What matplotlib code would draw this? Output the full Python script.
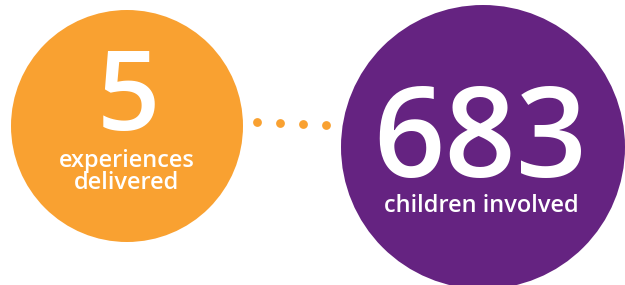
import matplotlib
matplotlib.use("Agg")
import matplotlib.pyplot as plt
from matplotlib.patches import Circle

# stat values and labels
values = ["5", "683"]
labels = ["experiences\ndelivered", "children involved"]
colors = ["#F9A131", "#652381"]

# circle centres / radii in pixel space
centers = [(127, 126), (483, 147)]
radii = [116, 142]
dot_x = [257, 280, 303, 326]
dot_y = [122, 123, 124, 125]

fig = plt.figure(figsize=(6.25, 2.85), dpi=100)
ax = fig.add_axes([0, 0, 1, 1])
ax.set_xlim(0, 625)
ax.set_ylim(285, 0)
ax.set_aspect("equal")
ax.axis("off")

for (cx, cy), r, c in zip(centers, radii, colors):
    ax.add_patch(Circle((cx, cy), r, color=c, lw=0))

ax.scatter(dot_x, dot_y, s=40, color=colors[0], lw=0)

# numbers (baseline anchored)
ax.text(128, 130, values[0], color="white", fontsize=80, family="Open Sans",
        weight="semibold", ha="center", va="baseline")
ax.text(480, 177, values[1], color="white", fontsize=90, family="Open Sans",
        weight="semibold", ha="center", va="baseline")

# captions
ax.text(127, 172, labels[0], color="white", fontsize=17, family="Open Sans",
        weight="semibold", ha="center", va="center", linespacing=0.92)
ax.text(481, 212, labels[1], color="white", fontsize=17, family="Open Sans",
        weight="semibold", ha="center", va="baseline")

fig.savefig("out.png", dpi=100)
